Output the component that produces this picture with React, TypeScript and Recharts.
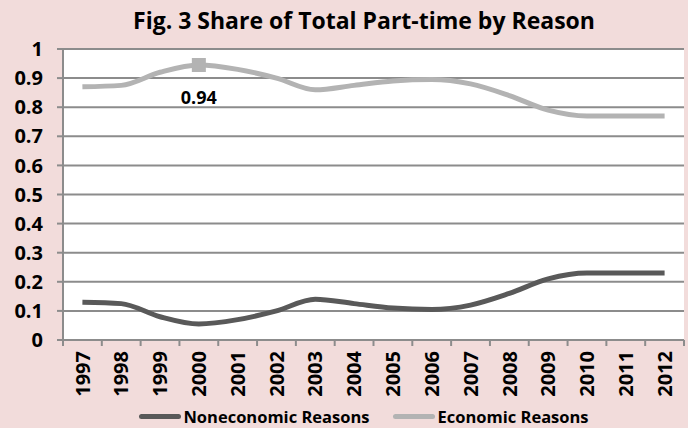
import { LineChart, Line, XAxis, YAxis, CartesianGrid, Legend, LabelList } from 'recharts';

const years = ['1997', '1998', '1999', '2000', '2001', '2002', '2003', '2004', '2005', '2006', '2007', '2008', '2009', '2010', '2011', '2012'];
const economic = [0.87, 0.875, 0.92, 0.945, 0.93, 0.9, 0.86, 0.875, 0.89, 0.895, 0.88, 0.84, 0.79, 0.77, 0.77, 0.77];
const noneconomic = [0.13, 0.125, 0.08, 0.055, 0.07, 0.1, 0.14, 0.125, 0.11, 0.105, 0.12, 0.16, 0.21, 0.23, 0.23, 0.23];
const yTicks = [0, 0.1, 0.2, 0.3, 0.4, 0.5, 0.6, 0.7, 0.8, 0.9, 1];
const labelIndex = 3;
const labelText = '0.94';

const data = years.map((year, i) => ({
  year,
  noneconomic: noneconomic[i],
  economic: economic[i],
}));

const FONT = '"Open Sans", sans-serif';
const DARK = '#595959';
const LIGHT = '#b3b3b3';
const AXIS = '#8c8c8c';

const YearTick = (props: any) => {
  const { x, y, payload, index, width, visibleTicksCount } = props;
  const band = width / visibleTicksCount;
  const left = x - band / 2;
  return (
    <g>
      <line x1={left} y1={y} x2={left} y2={y + 6} stroke={AXIS} strokeWidth={2} />
      {index === visibleTicksCount - 1 && (
        <line x1={left + band} y1={y} x2={left + band} y2={y + 6} stroke={AXIS} strokeWidth={2} />
      )}
      <text
        x={0}
        y={0}
        dy="0.36em"
        textAnchor="end"
        fontFamily={FONT}
        fontWeight="bold"
        fontSize={20}
        fill="#000"
        transform={`translate(${x},${y + 11}) rotate(-90)`}
      >
        {payload.value}
      </text>
    </g>
  );
};

const MarkerDot = (props: any) => {
  const { cx, cy, index } = props;
  if (index !== labelIndex) return <g key={index} />;
  return <rect key={index} x={cx - 7} y={cy - 7} width={14} height={14} fill={LIGHT} />;
};

const PointLabel = (props: any) => {
  const { x, y, index } = props;
  if (index !== labelIndex) return null;
  return (
    <text x={x} y={y + 33} dy="0.36em" textAnchor="middle" fontFamily={FONT} fontWeight="bold" fontSize={18} fill="#000">
      {labelText}
    </text>
  );
};

const LegendContent = () => (
  <div style={{ display: 'flex', justifyContent: 'center', alignItems: 'center', height: 24, paddingLeft: 44, fontFamily: FONT, fontWeight: 'bold', fontSize: 16.5, color: '#000' }}>
    <span style={{ display: 'inline-block', width: 42, height: 5, borderRadius: 3, background: DARK, marginRight: 2 }} />
    <span style={{ marginRight: 24 }}>Noneconomic Reasons</span>
    <span style={{ display: 'inline-block', width: 42, height: 5, borderRadius: 3, background: LIGHT, marginRight: 2 }} />
    <span>Economic Reasons</span>
  </div>
);

export default function App() {
  return (
    <div style={{ width: 688, height: 428, background: '#f2dcdb', position: 'relative' }}>
      <style>{'body{margin:0}'}</style>
      <div
        style={{
          position: 'absolute',
          top: 4,
          left: 40,
          width: 648,
          textAlign: 'center',
          fontFamily: FONT,
          fontWeight: 'bold',
          fontSize: 23,
          color: '#000',
        }}
      >
        Fig. 3 Share of Total Part-time by Reason
      </div>
      <LineChart width={688} height={428} data={data} margin={{ top: 49, right: 4, left: 0, bottom: 0 }}>
        <CartesianGrid vertical={false} stroke={AXIS} strokeWidth={2} fill="#ffffff" />
        <XAxis
          dataKey="year"
          scale="band"
          interval={0}
          height={64}
          tickLine={false}
          tickSize={0}
          tickMargin={0}
          axisLine={{ stroke: AXIS, strokeWidth: 2 }}
          tick={<YearTick />}
        />
        <YAxis
          domain={[0, 1]}
          ticks={yTicks}
          width={63}
          tickSize={6}
          tickMargin={14}
          axisLine={{ stroke: AXIS, strokeWidth: 2 }}
          tickLine={{ stroke: AXIS, strokeWidth: 2 }}
          tick={{ fontFamily: FONT, fontWeight: 'bold', fontSize: 20, fill: '#000' }}
        />
        <Legend verticalAlign="bottom" height={24} content={<LegendContent />} />
        <Line
          type="monotone"
          dataKey="noneconomic"
          stroke={DARK}
          strokeWidth={5}
          dot={false}
          isAnimationActive={false}
        />
        <Line
          type="monotone"
          dataKey="economic"
          stroke={LIGHT}
          strokeWidth={5}
          dot={<MarkerDot />}
          isAnimationActive={false}
        >
          <LabelList dataKey="economic" content={<PointLabel />} />
        </Line>
      </LineChart>
    </div>
  );
}
